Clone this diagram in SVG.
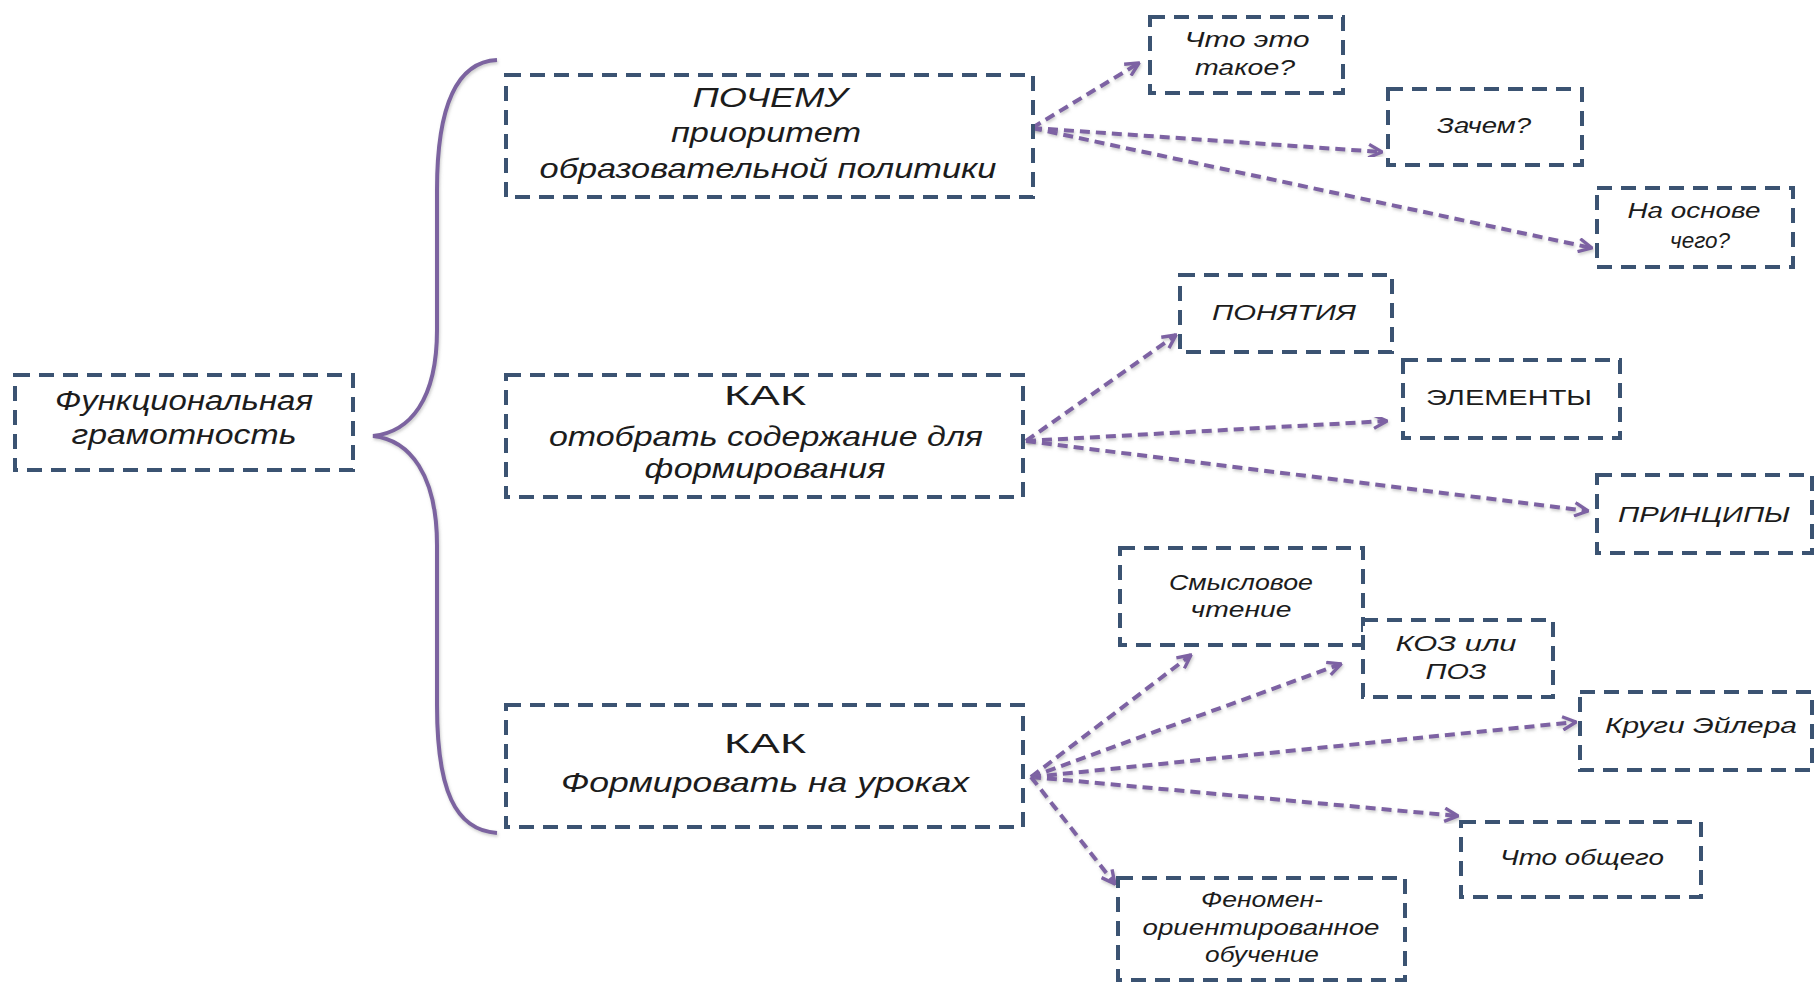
<svg xmlns="http://www.w3.org/2000/svg" width="1817" height="982" viewBox="0 0 1817 982">
<style>
.box{fill:#ffffff;stroke:#3b5372;stroke-width:4;stroke-dasharray:15 9}
.t{font-family:"Liberation Sans","DejaVu Sans",sans-serif;font-style:italic;fill:#1c1c1c;text-anchor:middle}
.up{font-style:normal}
.big{font-size:28px}
.mid{font-size:27px}
.sm{font-size:22px}
.conn{fill:none;stroke:#7d62a3;stroke-width:4;stroke-dasharray:10 6;marker-end:url(#ah);filter:url(#sh)}
.brace{fill:none;stroke:#7b64a0;stroke-width:4;filter:url(#sh)}
</style>
<defs>
<filter id="sh" x="-20%" y="-20%" width="140%" height="140%">
<feDropShadow dx="1" dy="2" stdDeviation="1.5" flood-color="#9a9a9a" flood-opacity="0.5"/>
</filter>
<marker id="ah" viewBox="0 0 12 12" refX="11" refY="6" markerWidth="16" markerHeight="16" markerUnits="userSpaceOnUse" orient="auto">
<path d="M1,1 L11,6 L1,11" fill="none" stroke="#7d62a3" stroke-width="2.5" stroke-linejoin="round"/>
</marker>
</defs>
<rect width="1817" height="982" fill="#ffffff"/>

<g id="connectors">
<path class="brace" d="M497,60 C455,62 437,110 437,190 L437,330 C437,400 410,432 373,436 C410,440 437,475 437,545 L437,705 C437,790 455,830 497,833"/>
<line class="conn" x1="1032" y1="128" x2="1139" y2="63"/>
<line class="conn" x1="1032" y1="128" x2="1382" y2="152"/>
<line class="conn" x1="1032" y1="128" x2="1592" y2="248"/>
<line class="conn" x1="1026" y1="441" x2="1176" y2="335"/>
<line class="conn" x1="1026" y1="441" x2="1387" y2="421"/>
<line class="conn" x1="1026" y1="441" x2="1588" y2="511"/>
<line class="conn" x1="1031" y1="777" x2="1191" y2="655"/>
<line class="conn" x1="1031" y1="777" x2="1341" y2="664"/>
<line class="conn" x1="1031" y1="777" x2="1576" y2="722"/>
<line class="conn" x1="1031" y1="777" x2="1458" y2="816"/>
<line class="conn" x1="1031" y1="777" x2="1115" y2="884"/>
</g>

<g id="root">
<rect class="box" x="15" y="375" width="338" height="95"/>
<text class="t mid" x="184" y="410" textLength="258" lengthAdjust="spacingAndGlyphs">Функциональная</text>
<text class="t mid" x="184" y="444" textLength="225" lengthAdjust="spacingAndGlyphs">грамотность</text>
</g>

<g id="pochemu">
<rect class="box" x="506" y="75" width="527" height="122"/>
<text class="t big" x="770" y="107" textLength="155" lengthAdjust="spacingAndGlyphs">ПОЧЕМУ</text>
<text class="t big" x="766" y="142" textLength="190" lengthAdjust="spacingAndGlyphs">приоритет</text>
<text class="t big" x="768" y="178" textLength="457" lengthAdjust="spacingAndGlyphs">образовательной политики</text>
</g>

<g id="kak1">
<rect class="box" x="506" y="375" width="517" height="122"/>
<text class="t big up" x="765" y="405" textLength="82" lengthAdjust="spacingAndGlyphs">КАК</text>
<text class="t big" x="766" y="446" textLength="434" lengthAdjust="spacingAndGlyphs">отобрать содержание для</text>
<text class="t big" x="765" y="478" textLength="241" lengthAdjust="spacingAndGlyphs">формирования</text>
</g>

<g id="kak2">
<rect class="box" x="506" y="705" width="517" height="122"/>
<text class="t big up" x="765" y="753" textLength="82" lengthAdjust="spacingAndGlyphs">КАК</text>
<text class="t big" x="765" y="792" textLength="408" lengthAdjust="spacingAndGlyphs">Формировать на уроках</text>
</g>

<g id="chto-eto">
<rect class="box" x="1150" y="17" width="193" height="76"/>
<text class="t sm" x="1247" y="47" textLength="125" lengthAdjust="spacingAndGlyphs">Что это</text>
<text class="t sm" x="1245" y="75" textLength="100" lengthAdjust="spacingAndGlyphs">такое?</text>
</g>

<g id="zachem">
<rect class="box" x="1388" y="89" width="194" height="76"/>
<text class="t sm" x="1484" y="133" textLength="94" lengthAdjust="spacingAndGlyphs">Зачем?</text>
</g>

<g id="na-osnove">
<rect class="box" x="1597" y="188" width="196" height="79"/>
<text class="t sm" x="1694" y="218" textLength="133" lengthAdjust="spacingAndGlyphs">На основе</text>
<text class="t sm" x="1700" y="248" textLength="60" lengthAdjust="spacingAndGlyphs">чего?</text>
</g>

<g id="ponyatiya">
<rect class="box" x="1180" y="275" width="212" height="77"/>
<text class="t sm" x="1284" y="320" textLength="144" lengthAdjust="spacingAndGlyphs">ПОНЯТИЯ</text>
</g>

<g id="elementy">
<rect class="box" x="1403" y="360" width="217" height="78"/>
<text class="t sm up" x="1509" y="405" textLength="166" lengthAdjust="spacingAndGlyphs">ЭЛЕМЕНТЫ</text>
</g>

<g id="principy">
<rect class="box" x="1597" y="475" width="215" height="78"/>
<text class="t sm" x="1704" y="522" textLength="172" lengthAdjust="spacingAndGlyphs">ПРИНЦИПЫ</text>
</g>

<g id="smyslovoe">
<rect class="box" x="1120" y="548" width="243" height="97"/>
<text class="t sm" x="1241" y="590" textLength="144" lengthAdjust="spacingAndGlyphs">Смысловое</text>
<text class="t sm" x="1241" y="617" textLength="101" lengthAdjust="spacingAndGlyphs">чтение</text>
</g>

<g id="koz">
<rect class="box" x="1363" y="620" width="190" height="77"/>
<text class="t sm" x="1456" y="651" textLength="121" lengthAdjust="spacingAndGlyphs">КОЗ или</text>
<text class="t sm" x="1456" y="679" textLength="61" lengthAdjust="spacingAndGlyphs">ПОЗ</text>
</g>

<g id="krugi">
<rect class="box" x="1580" y="692" width="232" height="78"/>
<text class="t sm" x="1701" y="733" textLength="192" lengthAdjust="spacingAndGlyphs">Круги Эйлера</text>
</g>

<g id="chto-obshchego">
<rect class="box" x="1461" y="822" width="240" height="75"/>
<text class="t sm" x="1582" y="865" textLength="164" lengthAdjust="spacingAndGlyphs">Что общего</text>
</g>

<g id="fenomen">
<rect class="box" x="1118" y="878" width="287" height="102"/>
<text class="t sm" x="1262" y="907" textLength="122" lengthAdjust="spacingAndGlyphs">Феномен-</text>
<text class="t sm" x="1261" y="935" textLength="237" lengthAdjust="spacingAndGlyphs">ориентированное</text>
<text class="t sm" x="1262" y="962" textLength="114" lengthAdjust="spacingAndGlyphs">обучение</text>
</g>
</svg>
